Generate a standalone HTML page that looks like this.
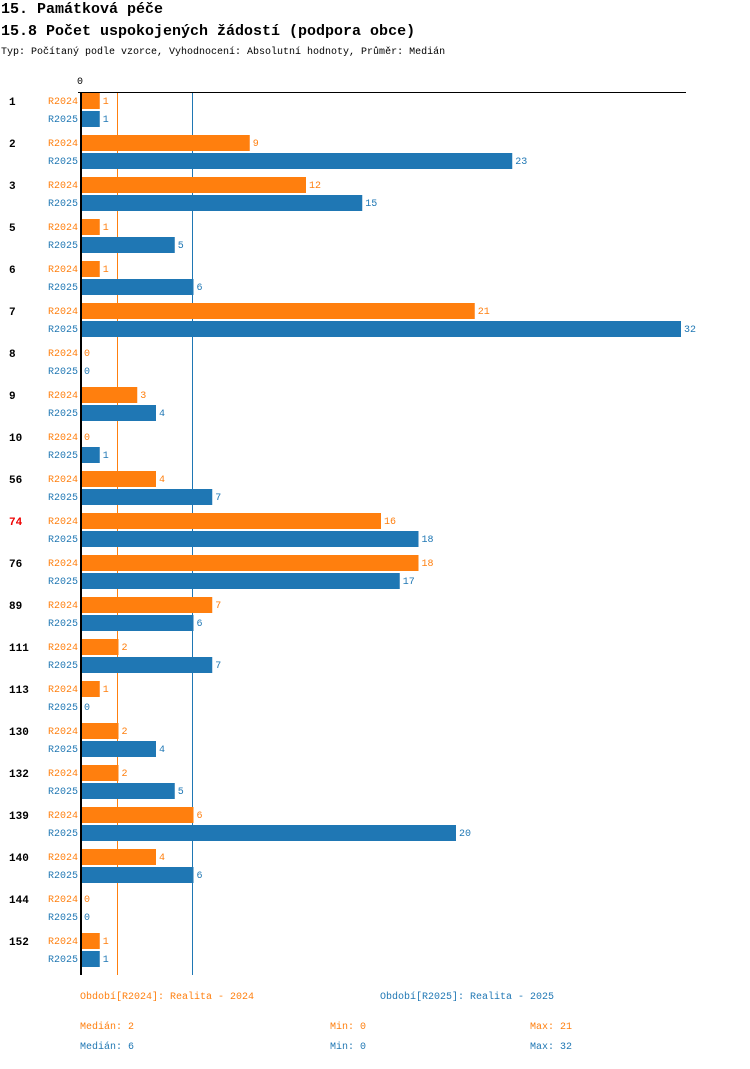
<!DOCTYPE html>
<html><head><meta charset="utf-8"><style>
body{margin:0;background:#fff;width:750px;height:1064px;overflow:hidden;font-family:"Liberation Mono",monospace}
</style></head><body>
<svg width="750" height="1064" xmlns="http://www.w3.org/2000/svg" font-family="Liberation Mono, monospace">
<text x="1" y="13" font-size="15" font-weight="bold">15. Památková péče</text>
<text x="1" y="35" font-size="15" font-weight="bold">15.8 Počet uspokojených žádostí (podpora obce)</text>
<text x="1" y="54" font-size="10">Typ: Počítaný podle vzorce, Vyhodnocení: Absolutní hodnoty, Průměr: Medián</text>
<g id="plot"></g>
<g font-size="10">
<text x="80" y="999" fill="#ff7f0e">Období[R2024]: Realita - 2024</text>
<text x="380" y="999" fill="#1f77b4">Období[R2025]: Realita - 2025</text>
<text x="80" y="1029" fill="#ff7f0e">Medián: 2</text>
<text x="330" y="1029" fill="#ff7f0e">Min: 0</text>
<text x="530" y="1029" fill="#ff7f0e">Max: 21</text>
<text x="80" y="1049" fill="#1f77b4">Medián: 6</text>
<text x="330" y="1049" fill="#1f77b4">Min: 0</text>
<text x="530" y="1049" fill="#1f77b4">Max: 32</text>
</g>
</svg>
<script>
const categories=["1","2","3","5","6","7","8","9","10","56","74","76","89","111","113","130","132","139","140","144","152"];
const r2024=[1,9,12,1,1,21,0,3,0,4,16,18,7,2,1,2,2,6,4,0,1];
const r2025=[1,23,15,5,6,32,0,4,1,7,18,17,6,7,0,4,5,20,6,0,1];
const medians=[2,6];
const highlighted=["74"];
const NS="http://www.w3.org/2000/svg";
const g=document.getElementById('plot');
const X0=81,SC=18.75,Y0=101,GS=42;
const x=v=>X0+v*SC;
const y=i=>Y0+i*GS;
const colors=["#ff7f0e","#1f77b4"];
function mk(t,a){const e=document.createElementNS(NS,t);for(const k in a)e.setAttribute(k,a[k]);g.appendChild(e);return e;}
const bottom=y(categories.length-1)+34;
medians.forEach((m,j)=>{
  const lx=Math.floor(x(m))-1;
  const l=mk('rect',{x:lx,y:92,width:1,height:bottom-92,fill:colors[j],'shape-rendering':'crispEdges'});
  
  
});
const ax=mk('rect',{x:78,y:92,width:608,height:1,fill:'#000','shape-rendering':'crispEdges'});


const ay=mk('rect',{x:80,y:92,width:2,height:bottom-92,fill:'#000','shape-rendering':'crispEdges'});


const z=mk('text',{x:77,y:84,'font-size':10});z.textContent='0';


categories.forEach((c,i)=>{
  const cy=y(i);
  const t=mk('text',{x:9,y:cy+4,'font-size':11,'font-weight':'bold',fill:highlighted.includes(c)?'#e00':'#000'});
  t.textContent=c;
  
  
  [r2024,r2025].forEach((s,j)=>{
    const by=cy-8+j*18;
    const lab=mk('text',{x:78,y:by+11,'font-size':10,fill:colors[j],'text-anchor':'end'});
    lab.textContent=j?'R2025':'R2024';
    
    
    const v=s[i];
    if(v>0){
      const r=mk('rect',{x:X0+1,y:by,width:x(v)-X0-1,height:16,fill:colors[j]});
      
      
    }
    const vl=mk('text',{x:x(v)+3,y:by+11,'font-size':10,fill:colors[j]});
    vl.textContent=v;
    
    
  });
});
</script>
</body></html>
